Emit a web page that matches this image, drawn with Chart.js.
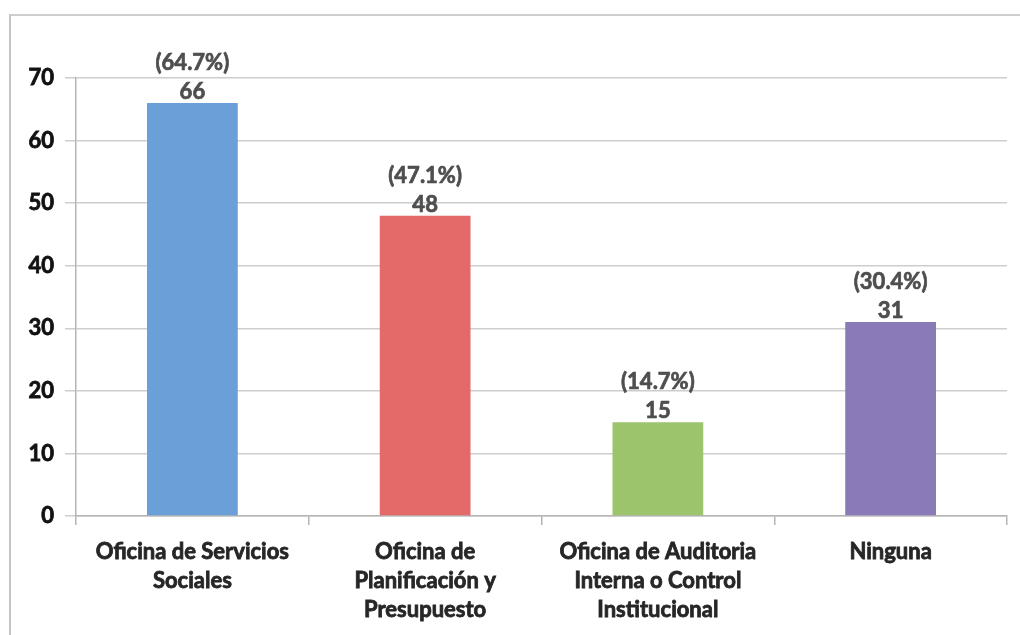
<!DOCTYPE html>
<html lang="es">
<head>
<meta charset="UTF-8">
<title>Oficinas</title>
<script src="https://cdn.jsdelivr.net/npm/chart.js"></script>
<style>
    body { margin: 0; background: #fff; }
    .marco {
        position: absolute; left: 9px; top: 14px; width: 1020px; height: 640px;
        border-left: 2px solid #c4c4c4; border-top: 2px solid #cfcfcf;
    }
    .grafico { position: absolute; left: 0; top: 0; width: 1020px; height: 635px; }
</style>
</head>
<body>
<div class="marco"></div>
<div class="grafico"><canvas id="miGrafico"></canvas></div>

<script>
// datos del gráfico
const oficinas = [
    ['Oficina de Servicios', 'Sociales'],
    ['Oficina de', 'Planificación y', 'Presupuesto'],
    ['Oficina de Auditoria', 'Interna o Control', 'Institucional'],
    'Ninguna'
];
const respuestas = [66, 48, 15, 31];
const porcentajes = ['(64.7%)', '(47.1%)', '(14.7%)', '(30.4%)'];
const colores = ['#6a9fd8', '#e46a6a', '#9bc46c', '#8a7bb8'];

const fuente = 'Lato, "Liberation Sans", sans-serif';

// etiquetas encima de cada barra: porcentaje y cantidad
const etiquetasBarras = {
    id: 'etiquetasBarras',
    afterDatasetsDraw(chart) {
        const ctx = chart.ctx;
        const meta = chart.getDatasetMeta(0);
        ctx.save();
        ctx.fillStyle = '#4e4e4e';
        ctx.strokeStyle = '#4e4e4e';
        ctx.lineWidth = 0.7;
        ctx.textAlign = 'center';
        ctx.textBaseline = 'middle';
        ctx.font = 'bold 22px ' + fuente;
        meta.data.forEach(function (barra, i) {
            const textos = [[String(respuestas[i]), 11], [porcentajes[i], 40]];
            textos.forEach(function (t) {
                ctx.strokeText(t[0], barra.x, barra.y - t[1]);
                ctx.fillText(t[0], barra.x, barra.y - t[1]);
            });
        });
        ctx.restore();
    }
};

const config = {
    type: 'bar',
    data: {
        labels: oficinas,
        datasets: [{
            data: respuestas,
            backgroundColor: colores,
            categoryPercentage: 1,
            barPercentage: 0.39
        }]
    },
    options: {
        responsive: true,
        maintainAspectRatio: false,
        animation: false,
        layout: { padding: { top: 78, right: 13, bottom: 0, left: 0 } },
        plugins: {
            legend: { display: false },
            tooltip: { enabled: false }
        },
        scales: {
            y: {
                min: 0,
                max: 70,
                ticks: {
                    stepSize: 10,
                    padding: 11,
                    color: '#111',
                    textStrokeColor: '#111',
                    textStrokeWidth: 0.8,
                    font: { family: fuente, size: 22, weight: 'bold' }
                },
                grid: { color: '#cdcdcd', lineWidth: 1.5, tickLength: 11 },
                border: { color: '#b5b5b5', width: 1.5 },
                afterFit(scale) { scale.width = 76; }
            },
            x: {
                offset: true,
                ticks: {
                    padding: 12,
                    color: '#262626',
                    textStrokeColor: '#262626',
                    textStrokeWidth: 0.8,
                    maxRotation: 0,
                    font: { family: fuente, size: 22, weight: 'bold', lineHeight: 1.32 }
                },
                grid: {
                    offset: true,
                    drawOnChartArea: false,
                    color: '#b5b5b5',
                    lineWidth: 1.5,
                    tickLength: 9
                },
                border: { color: '#b5b5b5', width: 1.5 },
                afterFit(scale) { scale.height = 119; }
            }
        }
    },
    plugins: [etiquetasBarras]
};

new Chart(document.getElementById('miGrafico'), config);
</script>
</body>
</html>
